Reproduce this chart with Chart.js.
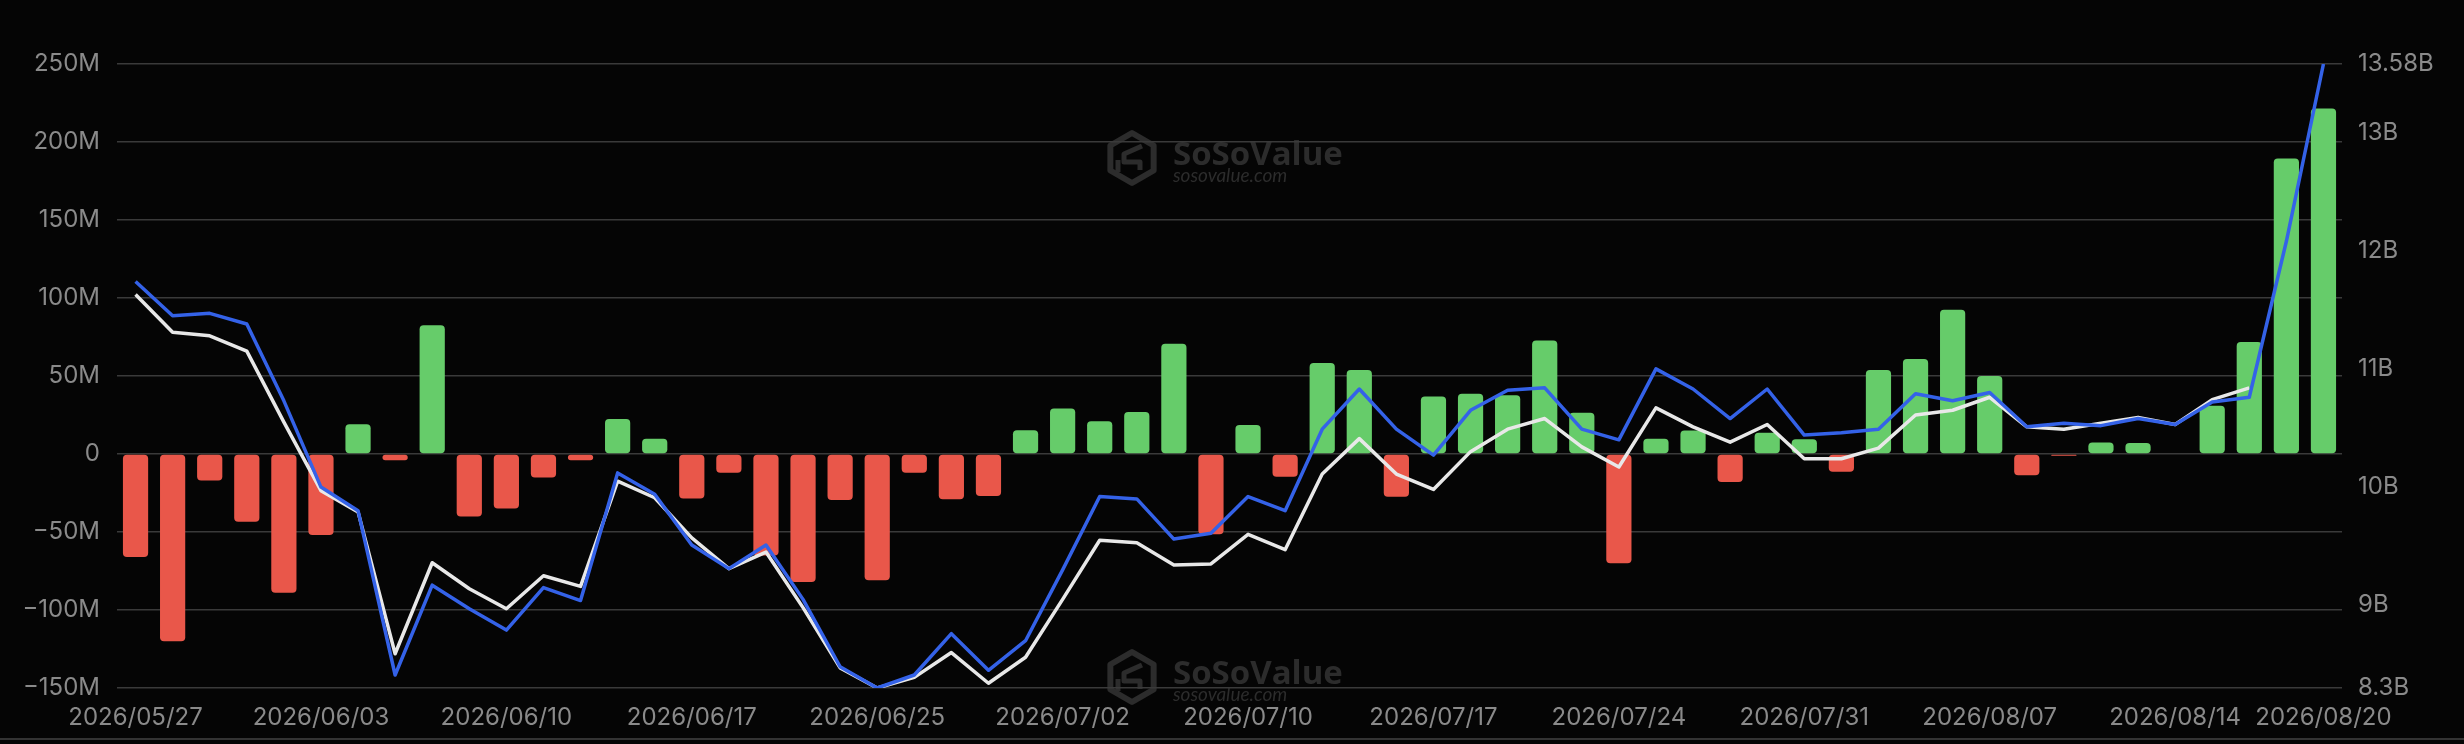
<!DOCTYPE html>
<html>
<head>
<meta charset="utf-8">
<title>ETF Daily Net Inflow</title>
<script src="https://cdn.jsdelivr.net/npm/chart.js@4.4.0/dist/chart.umd.min.js"></script>
<style>
    html, body { margin: 0; padding: 0; background: #050505; }
    #wrap { width: 2464px; height: 744px; position: relative; }
</style>
</head>
<body>
<div id="wrap"><canvas id="flowChart"></canvas></div>
<script>
// Trading days shown on the x axis
const dates = [
    '2026/05/27', '2026/05/28', '2026/05/29', '2026/06/01', '2026/06/02',
    '2026/06/03', '2026/06/04', '2026/06/05', '2026/06/08', '2026/06/09',
    '2026/06/10', '2026/06/11', '2026/06/12', '2026/06/15', '2026/06/16',
    '2026/06/17', '2026/06/18', '2026/06/22', '2026/06/23', '2026/06/24',
    '2026/06/25', '2026/06/26', '2026/06/29', '2026/06/30', '2026/07/01',
    '2026/07/02', '2026/07/06', '2026/07/07', '2026/07/08', '2026/07/09',
    '2026/07/10', '2026/07/13', '2026/07/14', '2026/07/15', '2026/07/16',
    '2026/07/17', '2026/07/20', '2026/07/21', '2026/07/22', '2026/07/23',
    '2026/07/24', '2026/07/27', '2026/07/28', '2026/07/29', '2026/07/30',
    '2026/07/31', '2026/08/03', '2026/08/04', '2026/08/05', '2026/08/06',
    '2026/08/07', '2026/08/10', '2026/08/11', '2026/08/12', '2026/08/13',
    '2026/08/14', '2026/08/17', '2026/08/18', '2026/08/19', '2026/08/20'
];

// Only these dates get a label
const shownDates = [
    '2026/05/27', '2026/06/03', '2026/06/10', '2026/06/17', '2026/06/25',
    '2026/07/02', '2026/07/10', '2026/07/17', '2026/07/24', '2026/07/31',
    '2026/08/07', '2026/08/14', '2026/08/20'
];

// Daily net inflow, in millions (bars, left axis)
const netInflow = [
    -66, -120, -17, -43.5, -89, -52, 19, -4, 82.5, -40,
    -35, -15, -4, 22.5, 9.7, -28.6, -12, -65, -82, -29.5,
    -81, -12, -29, -27, 15.2, 29.2, 21, 27, 70.6, -51.4,
    18.6, -14.6, 58.4, 53.9, -27.4, 36.8, 38.6, 37.7, 72.7, 26.5,
    -70, 9.7, 15, -18, 13.7, 9.4, -11.3, 53.9, 60.9, 92.5,
    50, -13.7, -1.2, 7.3, 7, 0, 31, 71.8, 189.5, 221.5
];

// Total net assets, in billions (blue line, right axis)
const netAssets = [
    11.74, 11.45, 11.47, 11.38, 10.73, 10.00, 9.80, 8.41, 9.17, 8.97,
    8.79, 9.15, 9.04, 10.12, 9.94, 9.51, 9.31, 9.51, 9.05, 8.48,
    8.30, 8.41, 8.76, 8.45, 8.70, 9.30, 9.92, 9.90, 9.56, 9.61,
    9.92, 9.80, 10.49, 10.83, 10.49, 10.27, 10.65, 10.82, 10.84, 10.49,
    10.40, 11.00, 10.83, 10.58, 10.83, 10.44, 10.46, 10.49, 10.79, 10.73,
    10.80, 10.51, 10.54, 10.52, 10.58, 10.53, 10.72, 10.76, 12.08, 13.58
];

// Second line (white), read on the right axis scale
const priceLine = [
    11.63, 11.31, 11.28, 11.15, 10.55, 9.97, 9.79, 8.59, 9.36, 9.14,
    8.97, 9.25, 9.16, 10.05, 9.91, 9.57, 9.31, 9.45, 8.98, 8.47,
    8.30, 8.39, 8.60, 8.34, 8.56, 9.05, 9.55, 9.53, 9.34, 9.35,
    9.60, 9.47, 10.11, 10.41, 10.11, 9.98, 10.30, 10.49, 10.58, 10.34,
    10.17, 10.67, 10.51, 10.38, 10.53, 10.24, 10.24, 10.33, 10.61, 10.65,
    10.76, 10.51, 10.49, 10.54, 10.59, 10.53, 10.74, 10.84, null, null
];

// Right axis tick values (billions)
const rightTicks = [8.3, 9, 10, 11, 12, 13, 13.58];

const GREEN = '#66cc6a';
const RED = '#e9574a';
const BLUE = '#3462e8';
const WHITE = '#e8e8e8';
const TICK_COLOR = '#8a8a8a';
const GRID_COLOR = '#3a3a3a';
const tickFont = { family: 'Inter', size: 24 };

// Draws one SoSoValue watermark (icon + text)
function drawMark(ctx, x, y) {
    ctx.save();
    ctx.strokeStyle = '#2c2c2c';
    ctx.fillStyle = '#2c2c2c';
    ctx.lineWidth = 6;
    ctx.lineJoin = 'round';
    // hexagon icon
    const cx = x - 41, cy = y - 7, r = 25;
    ctx.beginPath();
    for (let i = 0; i < 6; i++) {
        const a = Math.PI / 3 * i - Math.PI / 2;
        const px = cx + r * Math.cos(a), py = cy + r * Math.sin(a);
        if (i === 0) ctx.moveTo(px, py); else ctx.lineTo(px, py);
    }
    ctx.closePath();
    ctx.stroke();
    ctx.lineWidth = 5;
    ctx.beginPath();
    ctx.moveTo(cx + 10, cy - 12);
    ctx.lineTo(cx - 8, cy - 4);
    ctx.lineTo(cx - 8, cy + 4);
    ctx.lineTo(cx + 8, cy + 4);
    ctx.lineTo(cx + 8, cy + 12);
    ctx.moveTo(cx - 14, cy + 2);
    ctx.lineTo(cx - 14, cy + 14);
    ctx.stroke();

    // brand name
    ctx.textBaseline = 'alphabetic';
    ctx.textAlign = 'left';
    ctx.font = 'bold 36px "Open Sans"';
    let w = ctx.measureText('SoSoValue').width;
    ctx.font = 'bold ' + (36 * 170 / w).toFixed(1) + 'px "Open Sans"';
    ctx.fillText('SoSoValue', x, y);
    ctx.font = 'italic 22px Lato';
    w = ctx.measureText('sosovalue.com').width;
    ctx.font = 'italic ' + (22 * 114 / w).toFixed(1) + 'px Lato';
    ctx.fillText('sosovalue.com', x, y + 17);
    ctx.restore();
}

// Background + watermarks first, bottom separator last
const backdrop = {
    id: 'backdrop',
    beforeDraw(chart) {
        const ctx = chart.ctx;
        ctx.save();
        ctx.fillStyle = '#050505';
        ctx.fillRect(0, 0, chart.width, chart.height);
        ctx.restore();
        drawMark(ctx, 1173, 165);
        drawMark(ctx, 1173, 684);
    },
    afterDraw(chart) {
        const ctx = chart.ctx;
        ctx.save();
        ctx.strokeStyle = '#333333';
        ctx.lineWidth = 2;
        ctx.beginPath();
        ctx.moveTo(0, 739);
        ctx.lineTo(chart.width, 739);
        ctx.stroke();
        ctx.restore();
    }
};

const ctx = document.getElementById('flowChart').getContext('2d');

const flowChart = new Chart(ctx, {
    data: {
        labels: dates,
        datasets: [
            {
                type: 'line',
                label: 'Total Net Assets',
                data: netAssets,
                yAxisID: 'y1',
                borderColor: BLUE,
                borderWidth: 3.5,
                pointRadius: 0,
                tension: 0,
                borderJoinStyle: 'round',
                order: 0
            },
            {
                type: 'line',
                label: 'Price',
                data: priceLine,
                yAxisID: 'y1',
                borderColor: WHITE,
                borderWidth: 3.5,
                pointRadius: 0,
                tension: 0,
                borderJoinStyle: 'round',
                spanGaps: false,
                order: 1
            },
            {
                type: 'bar',
                label: 'Daily Net Inflow',
                data: netInflow,
                yAxisID: 'y',
                backgroundColor: netInflow.map(v => v >= 0 ? GREEN : RED),
                borderRadius: 4,
                borderSkipped: false,
                barPercentage: 0.68,
                categoryPercentage: 1,
                order: 2
            }
        ]
    },
    options: {
        responsive: true,
        maintainAspectRatio: false,
        animation: false,
        layout: { padding: { top: 64, left: 0, right: 0, bottom: 0 } },
        plugins: {
            legend: { display: false },
            tooltip: { enabled: false }
        },
        scales: {
            x: {
                offset: true,
                grid: { display: false, drawTicks: false },
                border: { display: false },
                ticks: {
                    autoSkip: false,
                    maxRotation: 0,
                    minRotation: 0,
                    color: TICK_COLOR,
                    font: tickFont,
                    padding: 15,
                    callback: (v, i) => shownDates.includes(dates[i]) ? dates[i] : ''
                },
                afterFit: s => { s.height = 56; }
            },
            y: {
                position: 'left',
                min: -150,
                max: 250,
                grid: { color: GRID_COLOR, lineWidth: 1.5, drawTicks: false },
                border: { display: false },
                ticks: {
                    stepSize: 50,
                    color: TICK_COLOR,
                    font: tickFont,
                    padding: 17,
                    callback: v => v === 0 ? '0' : (v < 0 ? '\u2212' + Math.abs(v) : v) + 'M'
                },
                afterFit: s => { s.width = 117; }
            },
            y1: {
                position: 'right',
                min: 8.3,
                max: 13.58,
                grid: { display: false, drawTicks: false },
                border: { display: false },
                afterBuildTicks: s => { s.ticks = rightTicks.map(v => ({ value: v })); },
                ticks: {
                    color: TICK_COLOR,
                    font: tickFont,
                    padding: 16,
                    callback: v => v + 'B'
                },
                afterFit: s => { s.width = 122; }
            }
        }
    },
    plugins: [backdrop]
});
</script>
</body>
</html>
